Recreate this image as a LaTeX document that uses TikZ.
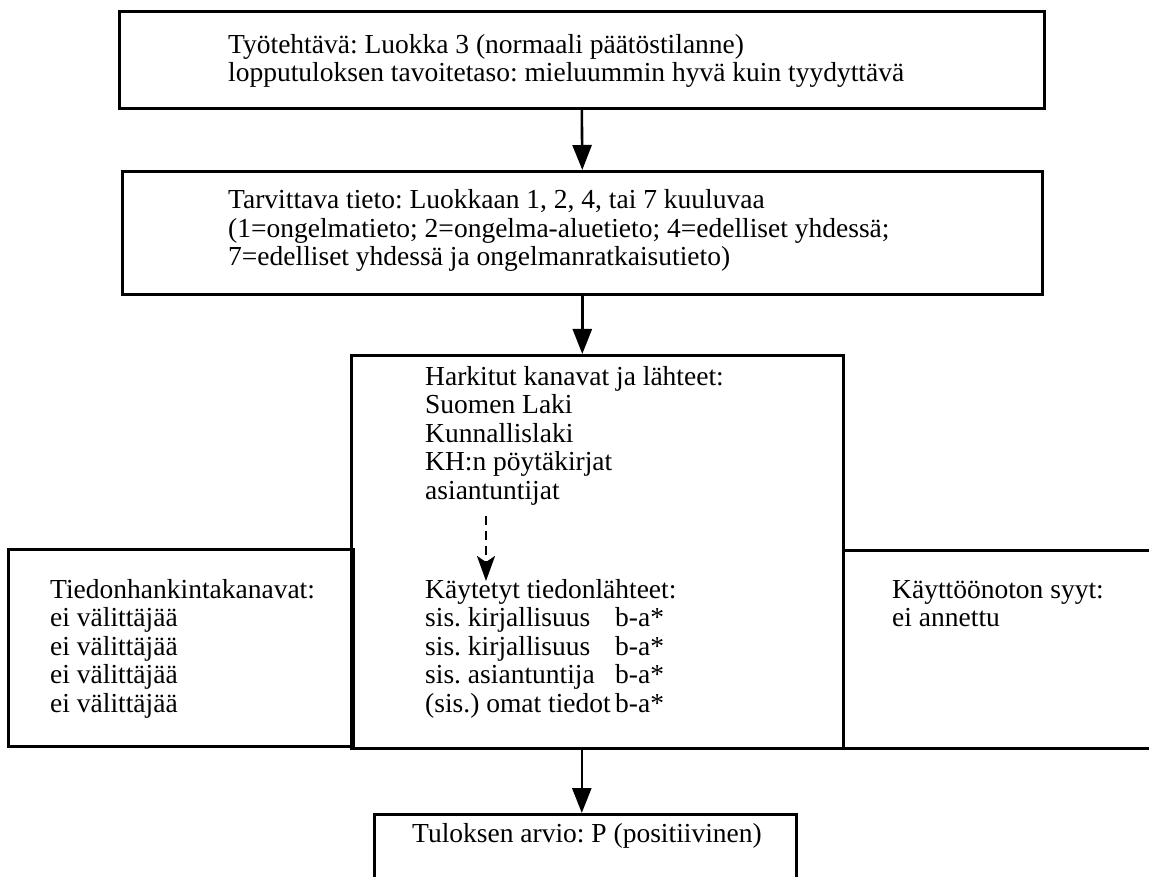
\documentclass[tikz,border=0pt]{standalone}
\usepackage{fontspec}
\setmainfont{Liberation Serif}
\frenchspacing
\usetikzlibrary{arrows.meta}
\tikzset{
  boxnode/.style={draw, line width=2.6pt, rectangle, inner sep=0pt, anchor=north west},
  txt/.style={anchor=base west, inner sep=0pt, font=\fontsize{27.5}{28.5}\selectfont},
  flow/.style={line width=2.6pt, -{Triangle[length=25pt,width=19pt]}},
  dflow/.style={line width=2.6pt, dash pattern=on 9pt off 6pt, -{Stealth[length=25pt,width=18pt,inset=6pt]}}
}
\begin{document}
\begin{tikzpicture}[x=1pt,y=-1pt]
\useasboundingbox (0,0) rectangle (1149,877);
\clip (0,0) rectangle (1149,877);
\fill[white] (0,0) rectangle (1149,877);

% boxes
\node[boxnode, minimum width=925pt, minimum height=97pt] (top) at (118,10) {};
\node[boxnode, minimum width=920pt, minimum height=123pt] (need) at (121,170) {};
\node[boxnode, minimum width=492pt, minimum height=393pt] (mid) at (350,354) {};
\node[boxnode, minimum width=345pt, minimum height=197pt] (left) at (7,548) {};
\node[boxnode, minimum width=400pt, minimum height=198pt] (right) at (842,549) {};
\node[boxnode, minimum width=422pt, minimum height=100pt] (res) at (373,813) {};

% texts
\node[txt] (t1) at (228,54) {Työtehtävä: Luokka 3 (normaali päätöstilanne)};
\node[txt] (t2) at (228,82) {lopputuloksen tavoitetaso: mieluummin hyvä kuin tyydyttävä};

\node[txt] (n1) at (228,209) {Tarvittava tieto: Luokkaan 1, 2, 4, tai 7 kuuluvaa};
\node[txt] (n2) at (228,237.5) {(1=ongelmatieto; 2=ongelma-aluetieto; 4=edelliset yhdessä;};
\node[txt] (n3) at (228,266) {7=edelliset yhdessä ja ongelmanratkaisutieto)};

\node[txt] (h1) at (425,385) {Harkitut kanavat ja lähteet:};
\node[txt] (h2) at (425,413.5) {Suomen Laki};
\node[txt] (h3) at (425,442) {Kunnallislaki};
\node[txt] (h4) at (425,470.5) {KH:n pöytäkirjat};
\node[txt] (h5) at (425,499) {asiantuntijat};

\node[txt] (k1) at (425,598) {Käytetyt tiedonlähteet:};
\node[txt] (k2) at (425,626.5) {sis. kirjallisuus};
\node[txt] (k3) at (425,655) {sis. kirjallisuus};
\node[txt] (k4) at (425,683.5) {sis. asiantuntija};
\node[txt] (k5) at (425,712) {(sis.) omat tiedot};
\node[txt] (b2) at (615,626.5) {b-a*};
\node[txt] (b3) at (615,655) {b-a*};
\node[txt] (b4) at (615,683.5) {b-a*};
\node[txt] (b5) at (615,712) {b-a*};

\node[txt] (l1) at (50,598) {Tiedonhankintakanavat:};
\node[txt] (l2) at (50,626.5) {ei välittäjää};
\node[txt] (l3) at (50,655) {ei välittäjää};
\node[txt] (l4) at (50,683.5) {ei välittäjää};
\node[txt] (l5) at (50,712) {ei välittäjää};

\node[txt] (r1) at (892,598) {Käyttöönoton syyt:};
\node[txt] (r2) at (892,626.5) {ei annettu};

\node[txt] (e1) at (412,842) {Tuloksen arvio: P (positiivinen)};

% connectors
\draw[flow] (top.south) -- (need.north);
\draw[flow] (need.south) -- (need.south |- mid.north);
\draw[flow] (mid.south -| top.south) -- (res.north -| top.south);
\coordinate (d1) at (486,516);
\coordinate (d2) at (486,581);
\draw[dflow] (d1) -- (d2);
\end{tikzpicture}
\end{document}
